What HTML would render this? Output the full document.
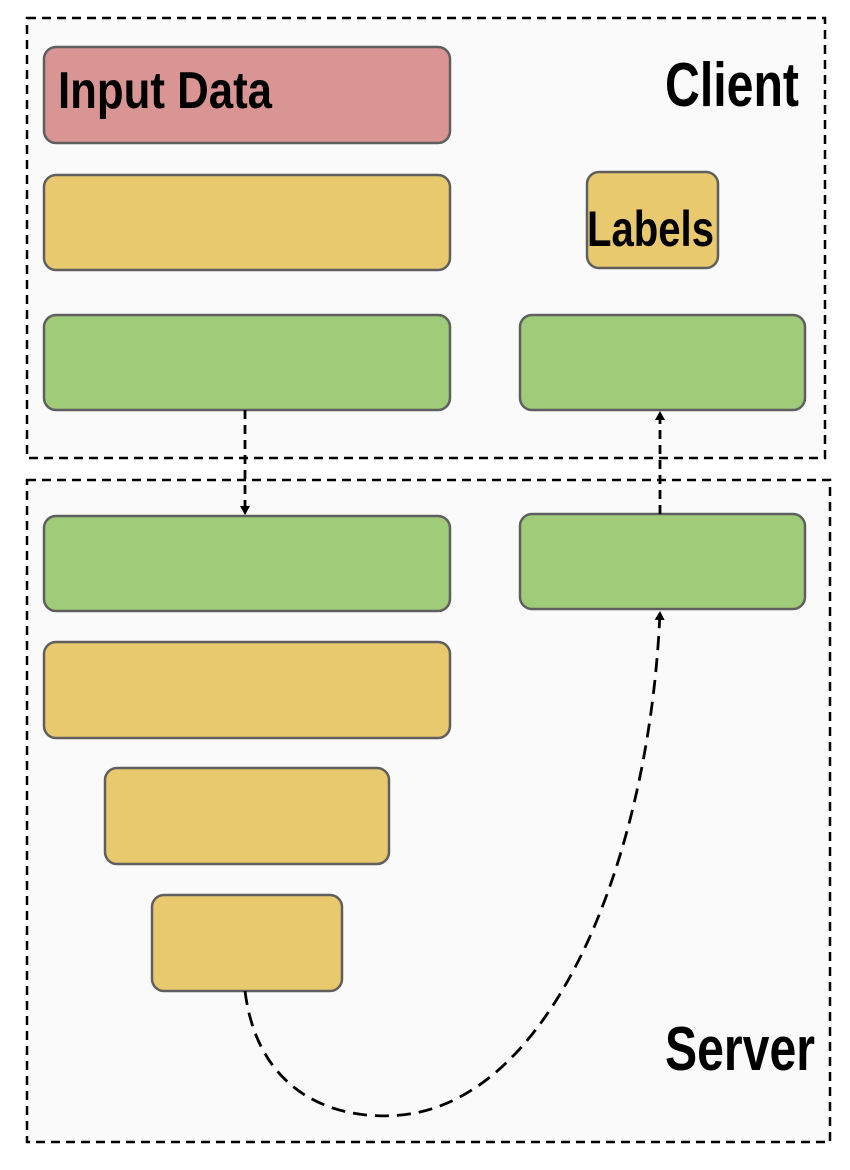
<!DOCTYPE html>
<html><head><meta charset="utf-8"><style>
html,body{margin:0;padding:0;background:#fff;}
svg{display:block;}
text{font-family:"Liberation Sans Narrow","Liberation Sans",sans-serif;font-weight:bold;fill:#000;}
</style></head><body>
<svg width="850" height="1170" viewBox="0 0 850 1170" xmlns="http://www.w3.org/2000/svg">
<defs>
<marker id="ah" markerWidth="10" markerHeight="10" refX="8" refY="5" orient="auto" markerUnits="userSpaceOnUse">
<path d="M0,0 L9,5 L0,10 Z" fill="#000"/>
</marker>
</defs>
<rect x="0" y="0" width="850" height="1170" fill="#fff"/>
<rect x="27" y="18" width="798" height="440" fill="#fafafa" stroke="#000" stroke-width="2.5" stroke-dasharray="9,6"/>
<rect x="27" y="480" width="803" height="662" fill="#fafafa" stroke="#000" stroke-width="2.5" stroke-dasharray="9,6"/>
<g stroke="#5f5f5f" stroke-width="2.5">
<rect x="44" y="47" width="406" height="96" rx="12" fill="#d99594"/>
<rect x="44" y="175" width="406" height="95" rx="12" fill="#e8c96e"/>
<rect x="44" y="315" width="406" height="95" rx="12" fill="#a0cb78"/>
<rect x="587" y="172" width="131" height="96" rx="12" fill="#e8c96e"/>
<rect x="520" y="315" width="285" height="95" rx="12" fill="#a0cb78"/>
<rect x="44" y="516" width="406" height="95" rx="12" fill="#a0cb78"/>
<rect x="520" y="514" width="285" height="95" rx="12" fill="#a0cb78"/>
<rect x="44" y="642" width="406" height="96" rx="12" fill="#e8c96e"/>
<rect x="105" y="768" width="284" height="96" rx="12" fill="#e8c96e"/>
<rect x="152" y="895" width="190" height="96" rx="12" fill="#e8c96e"/>
</g>
<text x="58" y="108" font-size="52" textLength="214" lengthAdjust="spacingAndGlyphs">Input Data</text>
<text x="587" y="246" font-size="50" textLength="127" lengthAdjust="spacingAndGlyphs">Labels</text>
<text x="665" y="106" font-size="62" textLength="134" lengthAdjust="spacingAndGlyphs">Client</text>
<text x="665" y="1070" font-size="62" textLength="150" lengthAdjust="spacingAndGlyphs">Server</text>
<g stroke="#000" stroke-width="2.8" fill="none">
<line x1="245" y1="410" x2="245" y2="514" stroke-dasharray="9,6" marker-end="url(#ah)"/>
<line x1="660" y1="514" x2="660" y2="412" stroke-dasharray="9,6" marker-end="url(#ah)"/>
<path d="M245,991 C260,1110 360,1125 420,1112 C560,1080 650,850 660,612" stroke-dasharray="14,8" marker-end="url(#ah)"/>
</g>
</svg>
</body></html>
